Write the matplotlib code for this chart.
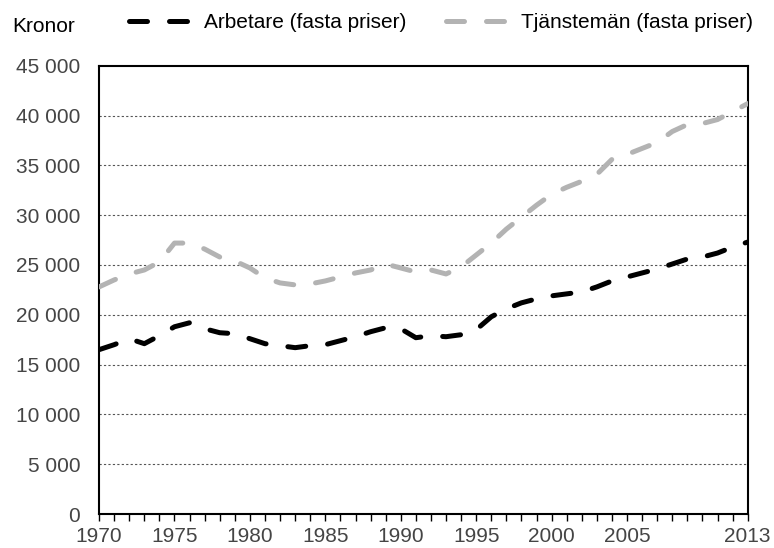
import numpy as np
import matplotlib
matplotlib.use("Agg")
import matplotlib.pyplot as plt
from matplotlib.ticker import FuncFormatter

plt.rcParams['font.family'] = ['Liberation Sans', 'DejaVu Sans']

# data (tusental kronor, fasta priser)
years = list(range(1970, 2014))
arbetare = [16.5, 17.0, 17.6, 17.1, 17.9, 18.8, 19.2, 18.6, 18.2, 18.1,
            17.6, 17.1, 16.9, 16.7, 16.9, 17.0, 17.4, 17.8, 18.3, 18.7,
            18.6, 17.7, 17.9, 17.8, 18.0, 18.5, 19.8, 20.6, 21.2, 21.6,
            21.9, 22.1, 22.3, 22.8, 23.4, 23.8, 24.2, 24.6, 25.1, 25.6,
            25.8, 26.2, 26.8, 27.3]
tjanstemaen = [22.8, 23.5, 24.1, 24.5, 25.3, 27.2, 27.2, 26.6, 25.8, 25.4,
               24.7, 23.7, 23.2, 23.0, 23.1, 23.4, 23.8, 24.2, 24.5, 25.1,
               24.7, 24.3, 24.5, 24.1, 24.8, 26.0, 27.2, 28.6, 29.8, 31.0,
               32.1, 32.8, 33.4, 34.1, 35.6, 36.1, 36.7, 37.3, 38.4, 39.1,
               39.2, 39.6, 40.4, 41.2]
xtick_labels = [1970, 1975, 1980, 1985, 1990, 1995, 2000, 2005, 2013]
series_names = ['Arbetare (fasta priser)', 'Tjänstemän (fasta priser)']

fs = 15
fig = plt.figure(figsize=(7.74, 5.48), dpi=100)
ax = fig.add_axes([0.128, 0.062, 0.838, 0.818])

y1 = np.array(arbetare) * 1000
y2 = np.array(tjanstemaen) * 1000

ax.plot(years, y1, color='black', lw=3.6, dashes=(3.6, 4.4),
        dash_capstyle='round', solid_capstyle='round', label=series_names[0], zorder=3)
ax.plot(years, y2, color='#b3b3b3', lw=3.6, dashes=(3.6, 4.4),
        dash_capstyle='round', solid_capstyle='round', label=series_names[1], zorder=3)

ax.set_xlim(1970, 2013)
ax.set_ylim(0, 45000)
ax.set_yticks(np.arange(0, 45001, 5000))
ax.yaxis.set_major_formatter(FuncFormatter(lambda v, p: f"{int(v):,}".replace(",", " ")))
ax.set_xticks(years, minor=True)
ax.set_xticks(xtick_labels)
ax.tick_params(axis='y', length=0, pad=13.5, labelsize=fs, labelcolor='#454545')
ax.tick_params(axis='x', which='both', direction='out', length=5, width=1,
               color='black', labelsize=fs, labelcolor='#454545', pad=4)

# dotted grid
for v in range(5000, 45000, 5000):
    ax.axhline(v, color='#555555', lw=0.8, ls=(0, (2, 2)), zorder=1)

for s in ax.spines.values():
    s.set_color('black')
    s.set_linewidth(1.5)

fig.text(0.016, 0.951, 'Kronor', fontsize=fs, color='black', va='center', ha='left')

fig.legend(loc='center left', bbox_to_anchor=(0.167, 0.959), ncol=2, frameon=False,
           fontsize=fs, handlelength=3.0, handletextpad=0.6, columnspacing=1.9,
           borderaxespad=0, borderpad=0)

fig.savefig('out.png', dpi=100)
